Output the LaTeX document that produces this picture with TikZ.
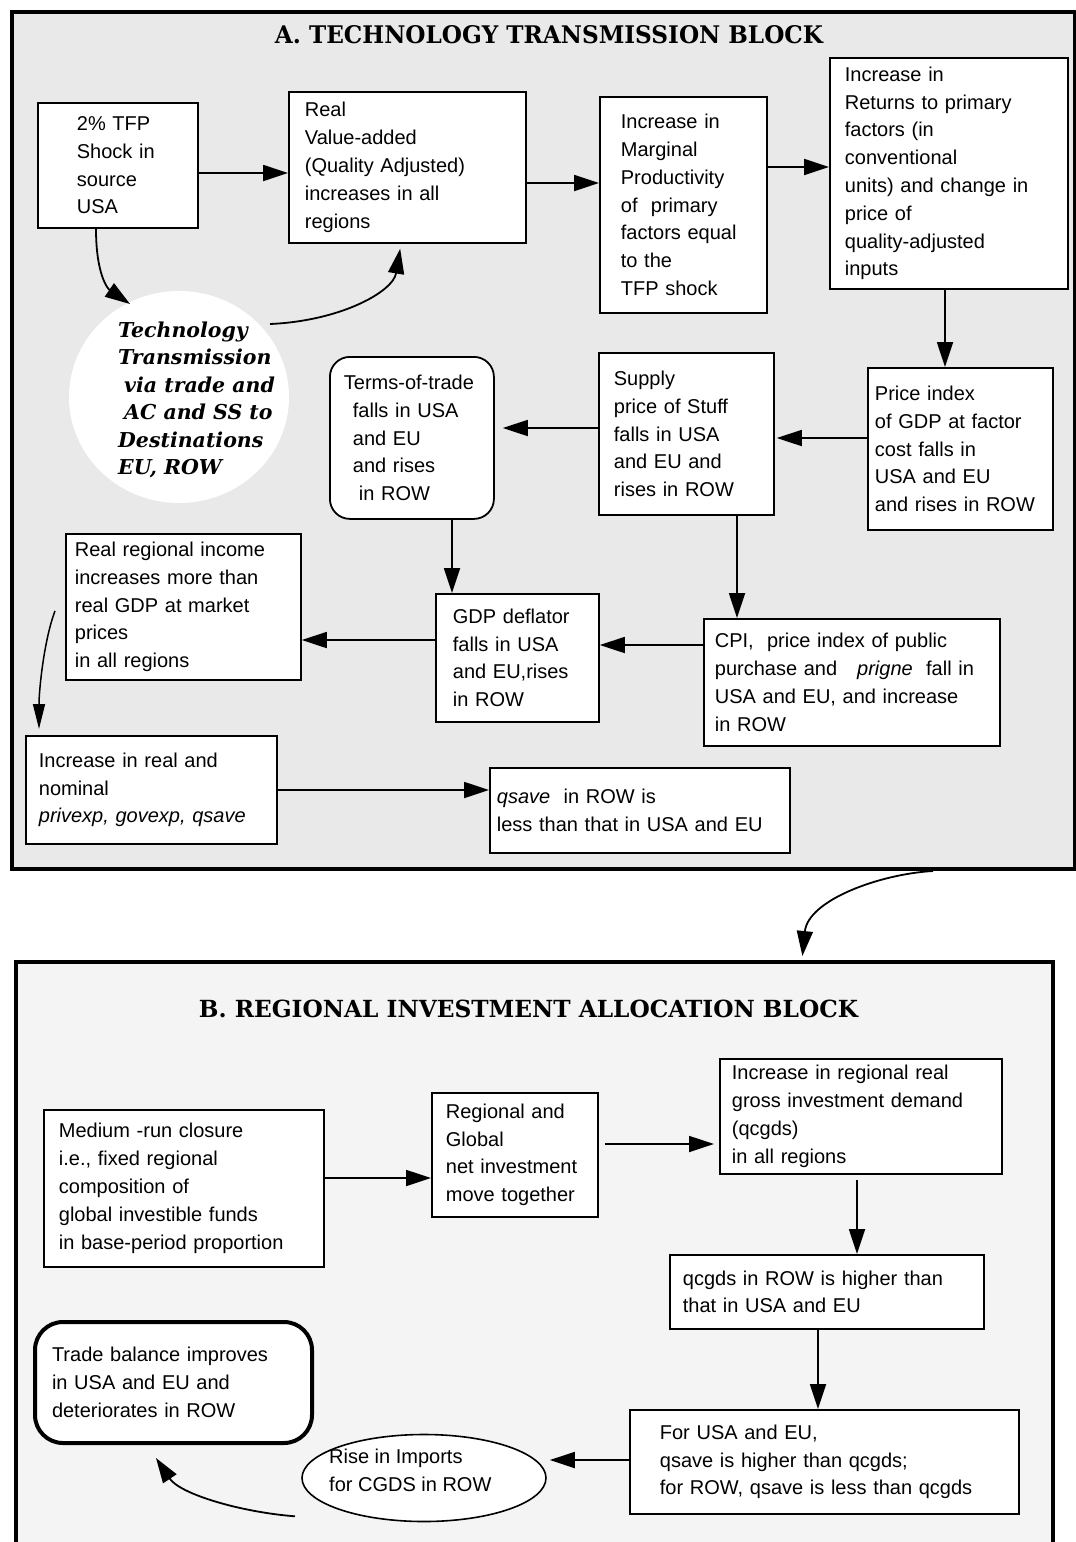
\documentclass[tikz,border=0pt]{standalone}
\usepackage{fontspec}
\usepackage{graphicx}
\setmainfont{Liberation Sans}
\newfontfamily\dvserif{DejaVu Serif}
\usetikzlibrary{arrows.meta,shapes.geometric,calc}
\definecolor{blkA}{HTML}{E9E9E9}
\definecolor{blkB}{HTML}{F4F4F4}
\newcommand\bodyf{\fontsize{20}{27.8}\selectfont}
\newcommand\circf{\dvserif\bfseries\itshape\fontsize{20.5}{27.5}\selectfont}
\tikzset{
  bx/.style={draw, fill=white, line width=1.8pt, inner sep=0pt, anchor=north west, align=left, font=\bodyf},
  arr/.style={line width=1.8pt, -{Triangle[length=25pt,width=16pt]}},
  frame/.style={draw, line width=4pt, inner sep=0pt, anchor=north west},
}
\begin{document}
\begin{tikzpicture}[x=1pt,y=-1pt]
\useasboundingbox (0,0) rectangle (1076,1542);
\fill[white] (0,0) rectangle (1076,1542);
% ---------- block frames
\node[frame, fill=blkA, minimum width=1063pt, minimum height=857pt] (blkA) at (10,10) {};
\node[frame, fill=blkB, minimum width=1037pt, minimum height=640pt] (blkB) at (14,960) {};
\node (tA) at (549,35) {\resizebox{548pt}{18pt}{\dvserif\bfseries A. TECHNOLOGY TRANSMISSION BLOCK}};
\node (tB) at (528.5,1009) {\resizebox{659pt}{17.5pt}{\dvserif\bfseries B. REGIONAL INVESTMENT ALLOCATION BLOCK}};
% ---------- block A nodes
\node[bx, text width=160pt, minimum height=125pt] (b1) at (37,102) {\leftskip=39pt\relax 2\% TFP\\Shock in\\source\\USA\par};
\node[bx, text width=237pt, minimum height=151pt] (b2) at (288,91) {\leftskip=16pt\relax Real\\Value-added\\(Quality Adjusted)\\increases in all\\regions\par};
\node[bx, text width=167pt, minimum height=216pt] (b3) at (599,96) {\leftskip=21pt\relax Increase in\\Marginal\\Productivity\\of\ \ primary\\factors equal\\to the\\TFP shock\par};
\node[bx, text width=238pt, minimum height=231pt] (b4) at (829,57) {\leftskip=15pt\relax Increase in\\Returns to primary\\factors (in\\conventional\\units) and change in\\price of\\quality-adjusted\\inputs\par};
\node[bx, text width=185pt, minimum height=162pt] (b5) at (867,367) {\leftskip=7pt\relax Price index\\of GDP at factor\\cost falls in\\USA and EU\\and rises in ROW\par};
\node[bx, text width=175pt, minimum height=162pt] (b6) at (598,352) {\leftskip=15pt\relax Supply\\price of Stuff\\falls in USA\\and EU and\\rises in ROW\par};
\node[bx, rounded corners=20pt, text width=164pt, minimum height=162pt] (terms) at (329,356) {\leftskip=14pt\relax Terms-of-trade\\\hspace*{9pt}falls in USA\\\hspace*{9pt}and EU\\\hspace*{9pt}and rises\\\hspace*{15pt}in ROW\par};
\node[bx, text width=163pt, minimum height=128pt] (gdp) at (435,593) {\leftskip=17pt\relax GDP deflator\\falls in USA\\and EU,rises\\in ROW\par};
\node[bx, text width=296pt, minimum height=127pt] (cpi) at (703,618) {\leftskip=11pt\relax CPI,\ \ price index of public\\purchase and\ \ \ \textit{prigne}\ \ fall in\\USA and EU, and increase\\in ROW\par};
\node[bx, text width=235pt, minimum height=146pt] (rr) at (65,533) {\leftskip=9pt\relax Real regional income\\increases more than\\real GDP at market\\prices\\in all regions\par};
\node[bx, text width=251pt, minimum height=108pt] (ir) at (25,735) {\leftskip=13pt\relax Increase in real and\\nominal\\\textit{privexp, govexp, qsave}\par};
\node[bx, text width=300pt, minimum height=85pt] (qs) at (489,767) {\leftskip=7pt\relax \textit{qsave}\ \ in ROW is\\less than that in USA and EU\\[4pt]\par};
% circle
\node[ellipse, fill=white, minimum width=220pt, minimum height=212pt, inner sep=0pt] (circ) at (179,397) {};
\node[anchor=west, align=left, inner sep=0pt, font=\circf] (circT) at (118,400) {Technology\\Transmission\\\hspace*{6pt}via trade and\\\hspace*{6pt}AC and SS to\\Destinations\\EU, ROW};
% ---------- block B nodes
\node[bx, text width=280pt, minimum height=157pt] (med) at (43,1109) {\leftskip=15pt\relax Medium -run closure\\i.e., fixed regional\\composition of\\global investible funds\\in base-period proportion\par};
\node[bx, text width=166pt, minimum height=124pt] (reg) at (431,1092) {\leftskip=14pt\relax Regional and\\Global\\net investment\\move together\par};
\node[bx, text width=282pt, minimum height=115pt] (inc) at (719,1058) {\leftskip=12pt\relax Increase in regional real\\gross investment demand\\(qcgds)\\in all regions\par};
\node[bx, text width=314pt, minimum height=74pt] (qc) at (669,1254) {\leftskip=13pt\relax qcgds in ROW is higher than\\that in USA and EU\par};
\node[bx, text width=389pt, minimum height=104pt] (fu) at (629,1409) {\leftskip=30pt\relax For USA and EU,\\qsave is higher than qcgds;\\for ROW, qsave is less than qcgds\par};
\node[bx, rounded corners=28pt, line width=4pt, text width=277pt, minimum height=121pt] (tb) at (33,1320) {\leftskip=17pt\relax Trade balance improves\\in USA and EU and\\deteriorates in ROW\\[8pt]\par};
\node[ellipse, draw, fill=white, line width=1.6pt, minimum width=244pt, minimum height=87pt, inner sep=0pt] (ell) at (424,1478) {};
\node[anchor=west, align=left, inner sep=0pt, font=\bodyf] (ellT) at (329,1470) {Rise in Imports\\for CGDS in ROW};
% ---------- connectors block A
\draw[arr] (b1.east |- 0,173) -- (b2.west |- 0,173);
\draw[arr] (b2.east |- 0,183) -- (b3.west |- 0,183);
\draw[arr] (b3.east |- 0,167) -- (b4.west |- 0,167);
\draw[arr] (945,0 |- b4.south) -- (945,0 |- b5.north);
\draw[arr, shorten >=2pt] (b5.west |- 0,438) -- (b6.east |- 0,438);
\draw[arr, shorten >=8pt] (b6.west |- 0,428) -- (terms.east |- 0,428);
\draw[arr] (452,0 |- terms.south) -- (452,0 |- gdp.north);
\draw[arr] (737,0 |- b6.south) -- (737,0 |- cpi.north);
\draw[arr] (cpi.west |- 0,645) -- (gdp.east |- 0,645);
\draw[arr] (gdp.west |- 0,640) -- (rr.east |- 0,640);
\draw[arr] (ir.east |- 0,790) -- (qs.west |- 0,790);
\draw[line width=1.5pt, -{Triangle[length=25pt,width=12pt]}, shorten >=6pt]
  ($(rr.west)+(-10,4)$) .. controls (44,640) and (39,690) .. (39,0 |- ir.north);
\draw[arr] ($(b1.south west)+(59,0)$) .. controls (96,275) and (108,289) .. ($(circ.center)+(-49,-93)$);
\draw[arr, shorten >=5pt] ($(circ.center)+(91,-73)$) .. controls (340,321) and (393,292) .. (401,0 |- b2.south);
% ---------- between blocks
\draw[arr, shorten >=4pt] (933,0 |- blkA.south) .. controls (880,874) and (808,900) .. (802,0 |- blkB.north);
% ---------- connectors block B
\draw[arr] (med.east |- 0,1178) -- (reg.west |- 0,1178);
\draw[arr, shorten <=6pt, shorten >=5pt] (reg.east |- 0,1144) -- (inc.west |- 0,1144);
\draw[arr, shorten <=5pt] (857,0 |- inc.south) -- (857,0 |- qc.north);
\draw[arr] (818,0 |- qc.south) -- (818,0 |- fu.north);
\draw[arr, shorten >=3pt] (fu.west |- 0,1460) -- (ell.east |- 0,1460);
\draw[arr] ($(ell.south)+(-129,-6)$) .. controls (240,1512) and (180,1494) .. ($(tb.south west)+(123,13)$);
\end{tikzpicture}
\end{document}
